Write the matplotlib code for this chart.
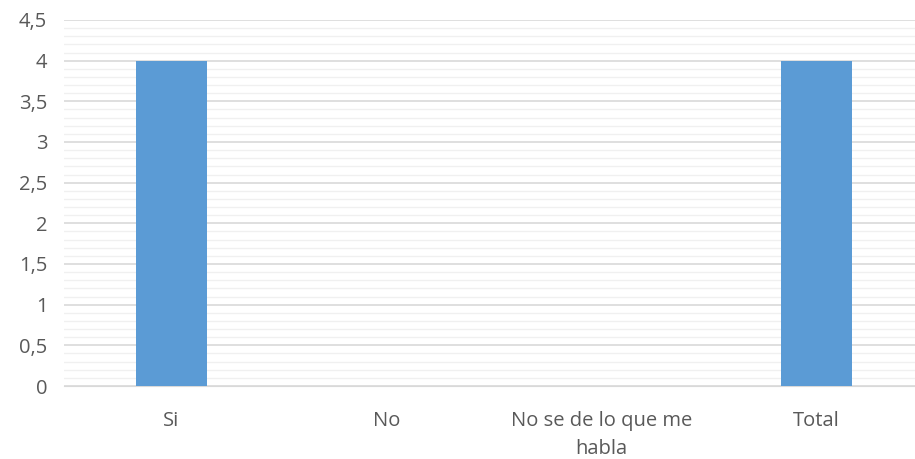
import matplotlib.pyplot as plt
import numpy as np

categories = ['Si', 'No', 'No se de lo que me\nhabla', 'Total']
values = [4, 0, 0, 4]
yticks = [0, 0.5, 1, 1.5, 2, 2.5, 3, 3.5, 4, 4.5]
ytick_labels = ['0', '0,5', '1', '1,5', '2', '2,5', '3', '3,5', '4', '4,5']

plt.rcParams['font.family'] = ['Open Sans', 'DejaVu Sans']
text_color = '#595959'

fig = plt.figure(figsize=(9.15, 4.59), dpi=100)
ax = fig.add_axes([64 / 915, 1 - 386 / 459, 860 / 915, 366 / 459])

x = np.arange(len(categories))
ax.bar(x, values, width=0.33, color='#5b9bd5', zorder=3)

ax.set_xlim(-0.5, 3.5)
ax.set_ylim(0, 4.5)
ax.set_yticks(yticks)
ax.set_yticklabels(ytick_labels)
ax.set_yticks(np.arange(0, 4.5, 0.1), minor=True)
ax.grid(axis='y', which='major', color='#d9d9d9', linewidth=1.2, zorder=0)
ax.grid(axis='y', which='minor', color='#f0f0f0', linewidth=1.0, zorder=0)
ax.set_xticks(x)
ax.set_xticklabels(categories, linespacing=1.5)

for s in ['top', 'right', 'left']:
    ax.spines[s].set_visible(False)
ax.spines['bottom'].set_color('#d9d9d9')
ax.tick_params(axis='both', which='both', length=0, colors=text_color, labelsize=14.5)
ax.tick_params(axis='x', pad=18)
ax.tick_params(axis='y', pad=12)

fig.savefig('out.png', dpi=100)
